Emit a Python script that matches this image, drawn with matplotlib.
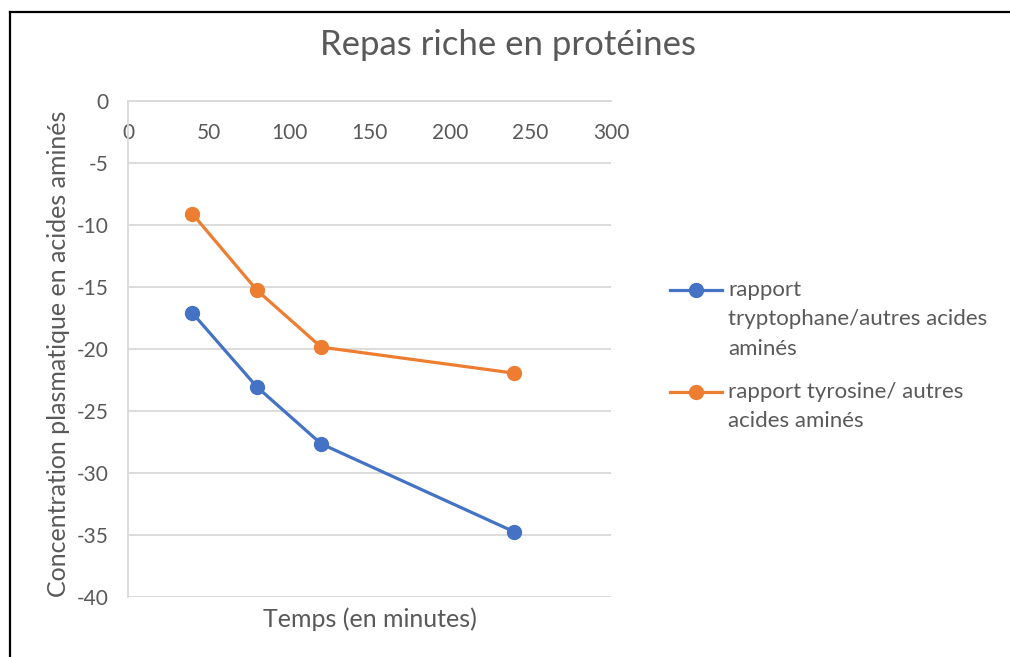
import matplotlib
matplotlib.use("Agg")
import matplotlib.pyplot as plt
from matplotlib.lines import Line2D

plt.rcParams['font.family'] = ['Lato', 'DejaVu Sans']
plt.rcParams['axes.unicode_minus'] = False

temps = [40, 80, 120, 240]
tryptophane = [-17.1, -23.05, -27.65, -34.75]
tyrosine = [-9.1, -15.25, -19.85, -21.95]
label_tryp = "rapport\ntryptophane/autres acides\naminés"
label_tyro = "rapport tyrosine/ autres\nacides aminés"
title = "Repas riche en protéines"
xlabel = "Temps (en minutes)"
ylabel = "Concentration plasmatique en acides aminés"
xticks = [0, 50, 100, 150, 200, 250, 300]
yticks = [0, -5, -10, -15, -20, -25, -30, -35, -40]

W, H = 1010, 657
fig = plt.figure(figsize=(W / 100, H / 100), dpi=100)
ax = fig.add_axes([128 / W, 1 - 597 / H, (611 - 128) / W, (597 - 101) / H])

gray_txt = '#595959'
blue = '#4472C4'
orange = '#ED7D31'

l1, = ax.plot(temps, tryptophane, color=blue, lw=2.3, marker='o', ms=10, label=label_tryp, zorder=3)
l2, = ax.plot(temps, tyrosine, color=orange, lw=2.3, marker='o', ms=10, label=label_tyro, zorder=3)

ax.set_xlim(0, 300)
ax.set_ylim(-40, 0)
ax.set_xticks(xticks)
ax.set_yticks(yticks)
ax.grid(axis='y', color='#D9D9D9', lw=1.3)
ax.set_axisbelow(True)

for s in ['top', 'right']:
    ax.spines[s].set_visible(False)
ax.spines['bottom'].set_position(('data', 0))
ax.spines['bottom'].set_color('#D9D9D9')
ax.spines['bottom'].set_linewidth(1.3)
ax.spines['left'].set_color('#D9D9D9')
ax.spines['left'].set_linewidth(1.3)

ax.tick_params(axis='x', length=0, pad=16, labelsize=15, labelcolor=gray_txt)
ax.tick_params(axis='y', length=0, pad=14, labelsize=15, labelcolor=gray_txt)

ax.set_xlabel(xlabel, fontsize=18, color=gray_txt)
ax.xaxis.set_label_coords(0.5, -0.02)
ax.set_ylabel(ylabel, fontsize=18, color=gray_txt)
ax.yaxis.set_label_coords(-0.12, 0.49)

fig.text(508 / W, 1 - 45 / H, title, fontsize=25, color=gray_txt, ha='center', va='center')

# legend drawn manually (Excel style: handle aligned with first text line)
entries = [(l1, label_tryp, 290), (l2, label_tyro, 392)]
for line, lab, ypx in entries:
    yf = 1 - ypx / H
    fig.add_artist(Line2D([670 / W, 722 / W], [yf, yf], color=line.get_color(), lw=2.3,
                          transform=fig.transFigure))
    fig.add_artist(Line2D([696 / W], [yf], color=line.get_color(), marker='o', ms=10,
                          transform=fig.transFigure))
    fig.text(728 / W, 1 - (ypx - 10) / H, lab, fontsize=16, color=gray_txt, ha='left', va='top',
             linespacing=1.58)

# frame
fig.add_artist(Line2D([9.5 / W, 9.5 / W], [0, 1 - 12 / H], color='black', lw=1.6, transform=fig.transFigure))
fig.add_artist(Line2D([9.5 / W, 1], [1 - 12 / H, 1 - 12 / H], color='black', lw=1.6, transform=fig.transFigure))

fig.savefig('out.png', dpi=100, facecolor='white')
